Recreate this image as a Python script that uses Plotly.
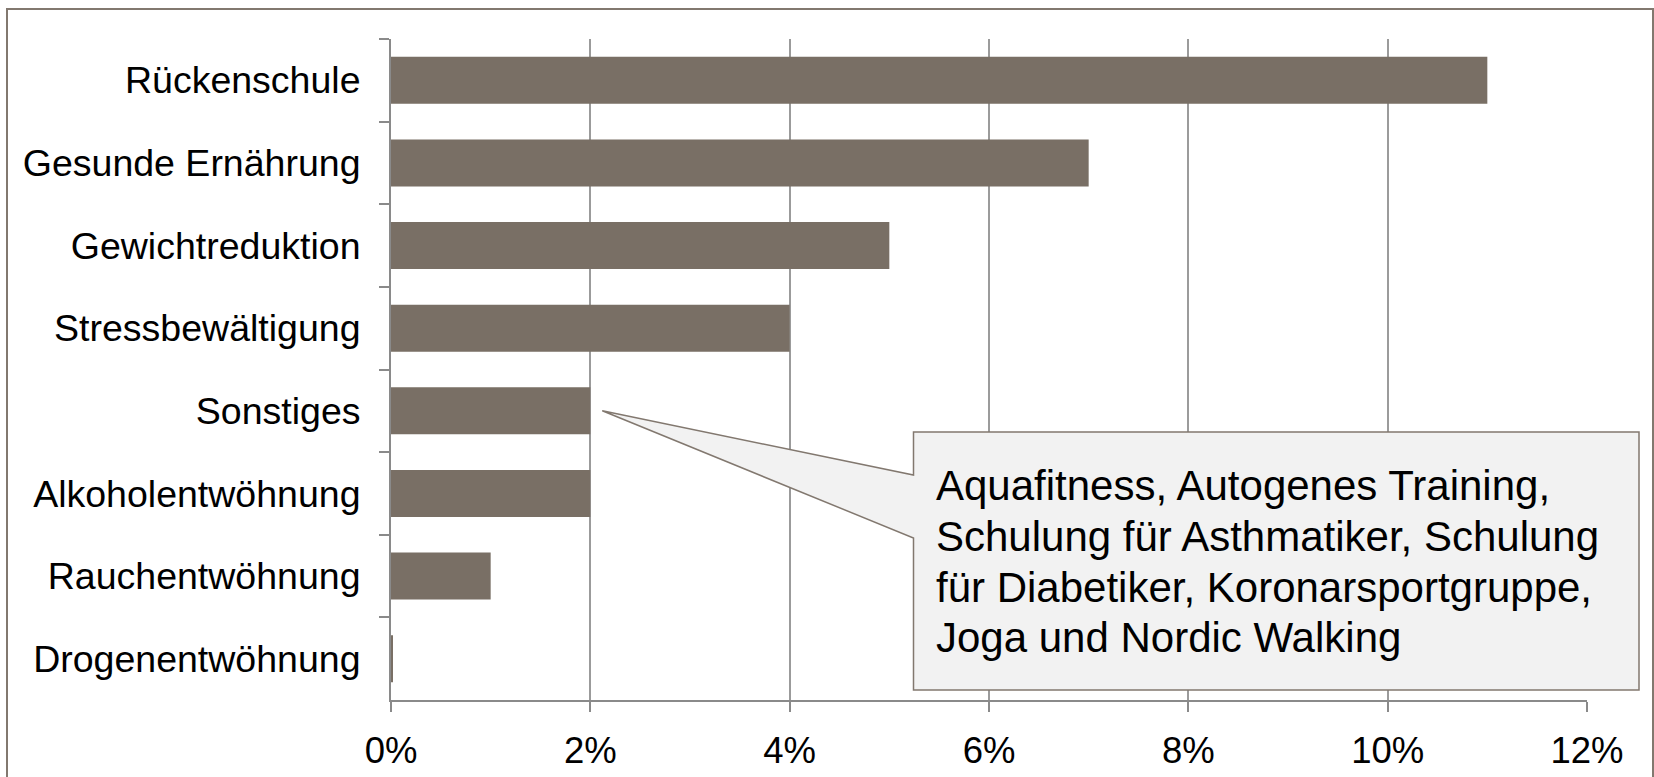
import plotly.graph_objects as go

# Share of participants per prevention course type (percent)
categories = [
    "Rückenschule",
    "Gesunde Ernährung",
    "Gewichtreduktion",
    "Stressbewältigung",
    "Sonstiges",
    "Alkoholentwöhnung",
    "Rauchentwöhnung",
    "Drogenentwöhnung",
]
values = [11.0, 7.0, 5.0, 4.0, 2.0, 2.0, 1.0, 0.015]

tick_values = [0, 2, 4, 6, 8, 10, 12]
tick_labels = ["0%", "2%", "4%", "6%", "8%", "10%", "12%"]

callout_target = "Sonstiges"
callout_lines = [
    "Aquafitness, Autogenes Training,",
    "Schulung für Asthmatiker, Schulung",
    "für Diabetiker, Koronarsportgruppe,",
    "Joga und Nordic Walking",
]

# Figure geometry (pixels)
FIG_W, FIG_H = 1654, 777
M_L, M_R, M_T, M_B = 391, 67, 39, 77
PLOT_W = FIG_W - M_L - M_R
PLOT_H = FIG_H - M_T - M_B
X_MAX = 12.0

BAR_COLOR = "#796f65"
GRID_COLOR = "#9b9b9b"
AXIS_COLOR = "#8a8a8a"
FRAME_COLOR = "#82786f"
FONT = "Liberation Sans, Arial, sans-serif"


def px_x(px):
    """Pixel column -> paper x."""
    return (px - M_L) / PLOT_W


def px_y(py):
    """Pixel row -> paper y."""
    return (FIG_H - M_B - py) / PLOT_H


fig = go.Figure(
    go.Bar(
        x=values,
        y=categories,
        orientation="h",
        marker=dict(color=BAR_COLOR, line=dict(width=0)),
        hoverinfo="skip",
    )
)

fig.update_layout(
    width=FIG_W,
    height=FIG_H,
    margin=dict(l=M_L, r=M_R, t=M_T, b=M_B, pad=0, autoexpand=False),
    paper_bgcolor="white",
    plot_bgcolor="white",
    bargap=0.43,
    showlegend=False,
    font=dict(family=FONT, color="black"),
)

fig.update_xaxes(
    range=[0, X_MAX],
    tickvals=tick_values,
    ticktext=tick_labels,
    tickfont=dict(size=36.5, family=FONT, color="black"),
    showgrid=True,
    gridcolor=GRID_COLOR,
    gridwidth=1.5,
    showline=True,
    linecolor=AXIS_COLOR,
    linewidth=2,
    ticks="outside",
    ticklen=10,
    tickwidth=1.5,
    tickcolor=AXIS_COLOR,
    ticklabelstandoff=7,
    zeroline=False,
    automargin=False,
    fixedrange=True,
)

fig.update_yaxes(
    categoryorder="array",
    categoryarray=categories,
    autorange="reversed",
    tickfont=dict(size=37.5, family=FONT, color="black"),
    showgrid=False,
    showline=True,
    linecolor=AXIS_COLOR,
    linewidth=2,
    ticks="outside",
    tickson="boundaries",
    ticklen=10,
    tickwidth=1.5,
    tickcolor=AXIS_COLOR,
    ticklabelstandoff=21,
    zeroline=False,
    automargin=False,
    fixedrange=True,
)

# Outer frame around the chart area
fig.add_shape(
    type="rect",
    xref="paper",
    yref="paper",
    x0=px_x(7),
    x1=px_x(1653),
    y0=px_y(800),
    y1=px_y(9),
    line=dict(color=FRAME_COLOR, width=2),
    fillcolor="rgba(0,0,0,0)",
    layer="above",
)

# Speech-bubble callout pointing at the end of the "Sonstiges" bar
idx = categories.index(callout_target)
tip_x = (values[idx] + 0.12) / X_MAX
tip_y = 1 - (idx + 0.5) / len(categories)

bx0, bx1 = px_x(913.5), px_x(1639)
by_top, by_bot = px_y(432), px_y(690)
base_hi, base_lo = px_y(475), px_y(538)

path = (
    f"M {bx0},{by_top} L {bx1},{by_top} L {bx1},{by_bot} L {bx0},{by_bot} "
    f"L {bx0},{base_lo} L {tip_x},{tip_y} L {bx0},{base_hi} Z"
)
fig.add_shape(
    type="path",
    xref="paper",
    yref="paper",
    path=path,
    fillcolor="#f2f2f2",
    line=dict(color=FRAME_COLOR, width=1.5),
    layer="above",
)

line_centers = [486, 536.5, 587, 637.5]
for text, cy in zip(callout_lines, line_centers):
    fig.add_annotation(
        xref="paper",
        yref="paper",
        x=px_x(934),
        y=px_y(cy),
        xanchor="left",
        yanchor="middle",
        text=text,
        showarrow=False,
        align="left",
        font=dict(size=42, family=FONT, color="black"),
    )

fig.write_html("out.html")
